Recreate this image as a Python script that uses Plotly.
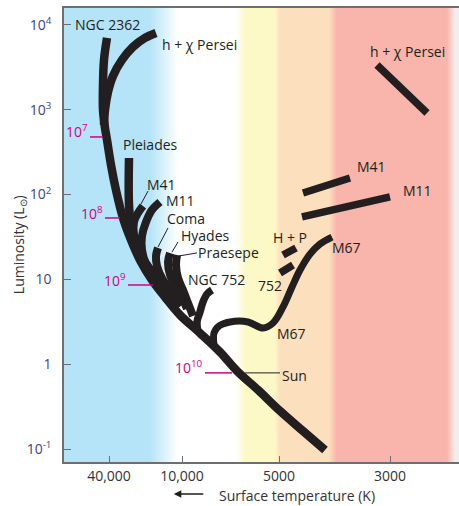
import numpy as np
import plotly.graph_objects as go

# ---- axes -------------------------------------------------------------
# Horizontal coordinate: colour-index-like position (10,000 K sits at 0)
x_min, x_max = -1.18, 2.77
temp_tick_pos = [-0.73, 0.0, 0.97, 2.08]
temp_tick_text = ["40,000", "10,000", "5000", "3000"]

log_lum_range = [-1.153, 4.2]
lum_tick_vals = [0.1, 1, 10, 100, 1000, 10000]
lum_tick_text = ["10<sup>-1</sup>", "1", "10", "10<sup>2</sup>", "10<sup>3</sup>", "10<sup>4</sup>"]

# ---- background colour bands (position, colour) -----------------------
band_pos = [-1.18, -0.32, -0.04, 0.54, 0.63, 0.93, 0.98, 1.47, 1.55, 2.65, 2.73, 2.77]
band_colors = ["#b5e3f8", "#b5e3f8", "#ffffff", "#ffffff", "#fdf9c6", "#fdf9c6",
               "#fcdfbd", "#fcdfbd", "#f9b4ab", "#f9b4ab", "#f1eeee", "#f1eeee"]

# ---- cluster sequences (x position, luminosity in L_sun) ---------------
ngc2362_x = [-0.75, -0.78, -0.79, -0.79, -0.77, -0.75, -0.71, -0.66, -0.59, -0.51, -0.41,
             -0.30, -0.17, -0.02, 0.18, 0.38, 0.55, 0.76, 0.98, 1.21, 1.43]
ngc2362_L = [7030, 3870, 1962, 995, 610, 441, 224, 113, 53.0, 29.2, 16.0,
             9.84, 6.20, 3.81, 2.33, 1.39, 0.832, 0.497, 0.281, 0.163, 0.0973]

hchi_x = [-0.26, -0.37, -0.49, -0.60, -0.69, -0.74, -0.77, -0.78]
hchi_L = [8050, 7030, 5505, 3870, 2505, 1623, 995, 662]

pleiades_x = [-0.53, -0.53, -0.51, -0.46, -0.38, -0.29, -0.17, -0.04]
pleiades_L = [270, 75.4, 43.8, 25.5, 16.0, 10.7, 6.92, 4.60]

m41_x = [-0.39, -0.44, -0.48, -0.48, -0.43, -0.34, -0.22, -0.10]
m41_L = [73.4, 60.7, 47.5, 33.4, 21.0, 14.4, 9.58, 6.37]

m11_x = [-0.22, -0.30, -0.36, -0.40, -0.40, -0.36, -0.27, -0.15, -0.04]
m11_L = [81.8, 65.9, 47.5, 32.5, 22.2, 15.2, 10.4, 7.11, 4.99]

coma_x = [-0.24, -0.26, -0.25, -0.19, -0.10, 0.00]
coma_L = [23.5, 18.9, 14.4, 9.84, 7.11, 4.99]

hyades_x = [-0.12, -0.14, -0.12, -0.06, 0.01, 0.05]
hyades_L = [20.5, 16.0, 11.3, 7.92, 5.71, 4.50]

praesepe_x = [-0.05, -0.06, -0.04, 0.01, 0.06, 0.11]
praesepe_L = [19.4, 14.8, 10.4, 7.50, 5.27, 3.70]

ngc752_x = [0.30, 0.25, 0.21, 0.18, 0.15, 0.16]
ngc752_L = [7.50, 6.73, 5.42, 4.13, 3.15, 2.40]

m67_x = [0.32, 0.32, 0.37, 0.48, 0.66, 0.81, 0.91, 1.01, 1.10, 1.18, 1.28, 1.38, 1.50]
m67_L = [1.69, 2.33, 2.82, 3.15, 3.15, 2.67, 3.06, 4.73, 8.14, 12.9, 19.9, 26.2, 31.6]

# red clump and giant-branch segments
hp_clump_x, hp_clump_L = [1.01, 1.14], [19.4, 23.5]
ngc752_clump_x, ngc752_clump_L = [0.98, 1.11], [11.9, 14.8]
m41_giant_x, m41_giant_L = [1.21, 1.68], [104.5, 157]
m11_giant_x, m11_giant_L = [1.20, 2.08], [54.5, 93.8]
hchi_giant_x, hchi_giant_L = [1.95, 2.45], [3376, 917]

# ---- labels -------------------------------------------------------------
label_text = ["NGC 2362", "h + χ Persei", "Pleiades", "M41", "M11", "Coma", "Hyades",
              "Praesepe", "NGC 752", "M67", "Sun", "H + P", "752", "M67", "M41", "M11",
              "h + χ Persei"]
label_x = [-1.08, -0.21, -0.60, -0.36, -0.17, -0.16, -0.02, 0.15, 0.05, 0.94, 0.99,
           0.90, 0.75, 1.49, 1.74, 2.20, 1.87]
label_L = [10000, 5810, 385, 130, 86.3, 52.8, 32.5, 21.0, 9.84, 2.33, 0.746,
           31.6, 8.59, 24.1, 212, 113, 4806]

# leader lines from labels to sequences
leader_x = [[-0.34, -0.41], [-0.14, -0.24], [-0.04, -0.10], [0.15, -0.03], [0.63, 0.98]]
leader_L = [[110, 77.5], [40.4, 24.1], [27.6, 21.0], [20.5, 18.9], [0.79, 0.79]]

# cluster ages (years) marked along the turnoff
age_text = ["10<sup>7</sup>", "10<sup>8</sup>", "10<sup>9</sup>", "10<sup>10</sup>"]
age_text_x = [-0.92, -0.77, -0.54, 0.23]
age_text_L = [563, 60.7, 9.84, 0.927]
age_line_x = [[-0.92, -0.79], [-0.77, -0.62], [-0.54, -0.29], [0.23, 0.50]]
age_line_L = [478, 53.0, 8.59, 0.79]

INK = "#231f20"
MAGENTA = "#d2007e"
AXIS = "#6d6e71"
FONT = "Open Sans"

fig = go.Figure()

# background bands as a one-row heatmap
edges = np.linspace(x_min, x_max, 396)
centers = 0.5 * (edges[:-1] + edges[1:])
scale = [[(p - x_min) / (x_max - x_min), c] for p, c in zip(band_pos, band_colors)]
fig.add_trace(go.Heatmap(
    x=edges, y=[10 ** log_lum_range[0], 10 ** log_lum_range[1]], z=[centers],
    colorscale=scale, zmin=x_min, zmax=x_max, showscale=False, hoverinfo="skip"))

def thick(x, y, w=8.5, shape="spline"):
    fig.add_trace(go.Scatter(x=x, y=y, mode="lines", hoverinfo="skip",
                             line=dict(color=INK, width=w, shape=shape, smoothing=1.0)))

thick(ngc2362_x, ngc2362_L)
thick(hchi_x, hchi_L)
thick(pleiades_x, pleiades_L)
thick(m41_x, m41_L, 8)
thick(m11_x, m11_L, 8)
thick(coma_x, coma_L, 8)
thick(hyades_x, hyades_L, 8)
thick(praesepe_x, praesepe_L, 8)
thick(ngc752_x, ngc752_L, 7.5)
thick(m67_x, m67_L, 7)
for gx, gL in [(hp_clump_x, hp_clump_L), (ngc752_clump_x, ngc752_clump_L),
               (m41_giant_x, m41_giant_L), (m11_giant_x, m11_giant_L),
               (hchi_giant_x, hchi_giant_L)]:
    thick(gx, gL, 7.5, "linear")

for lx, lL in zip(leader_x, leader_L):
    fig.add_trace(go.Scatter(x=lx, y=lL, mode="lines", hoverinfo="skip",
                             line=dict(color=INK, width=1)))

for lx, lv in zip(age_line_x, age_line_L):
    fig.add_trace(go.Scatter(x=lx, y=[lv, lv], mode="lines", hoverinfo="skip",
                             line=dict(color=MAGENTA, width=1.5)))

annotations = []
for t, x, L in zip(label_text, label_x, label_L):
    annotations.append(dict(x=x, y=np.log10(L), xref="x", yref="y", text=t,
                            showarrow=False, xanchor="left", yanchor="middle",
                            borderpad=0,
                            font=dict(family=FONT, size=14, color=INK)))
for t, x, L in zip(age_text, age_text_x, age_text_L):
    annotations.append(dict(x=x, y=np.log10(L), xref="x", yref="y", text=t,
                            showarrow=False, xanchor="right", yanchor="middle",
                            font=dict(family=FONT, size=14, color=MAGENTA)))

# axis titles
annotations.append(dict(x=-0.111, y=0.478, xref="paper", yref="paper",
                        text="Luminosity (L<sub>⊙</sub>)", textangle=-90,
                        showarrow=False, xanchor="center", yanchor="middle",
                        font=dict(family=FONT, size=14, color="#333333")))
annotations.append(dict(x=0.387, y=-0.0727, xref="paper", yref="paper",
                        text="Surface temperature (K)", showarrow=False,
                        xanchor="left", yanchor="middle",
                        font=dict(family=FONT, size=14, color="#333333")))
annotations.append(dict(x=0.278, y=-0.0705, xref="paper", yref="paper", text="",
                        showarrow=True, ax=31, ay=0, arrowhead=2, arrowsize=1,
                        arrowwidth=1.5, arrowcolor=INK))

fig.update_layout(
    width=459, height=506,
    margin=dict(l=64, r=0, t=8, b=44),
    paper_bgcolor="white", plot_bgcolor="white",
    showlegend=False,
    annotations=annotations,
    xaxis=dict(range=[x_min, x_max], tickvals=temp_tick_pos, ticktext=temp_tick_text,
               ticks="inside", ticklen=6, tickwidth=1.2, tickcolor=AXIS,
               showline=True, linecolor=AXIS, linewidth=1.5, mirror=True,
               showgrid=False, zeroline=False,
               tickfont=dict(family=FONT, size=14, color="#333333")),
    yaxis=dict(type="log", range=log_lum_range, tickvals=lum_tick_vals,
               ticktext=lum_tick_text, ticks="inside", ticklen=7, tickwidth=1.2,
               tickcolor=AXIS, showline=True, linecolor=AXIS, linewidth=1.5,
               showgrid=False, zeroline=False, ticklabelstandoff=8,
               tickfont=dict(family=FONT, size=14, color="#434383")),
)

fig.write_html("out.html")
